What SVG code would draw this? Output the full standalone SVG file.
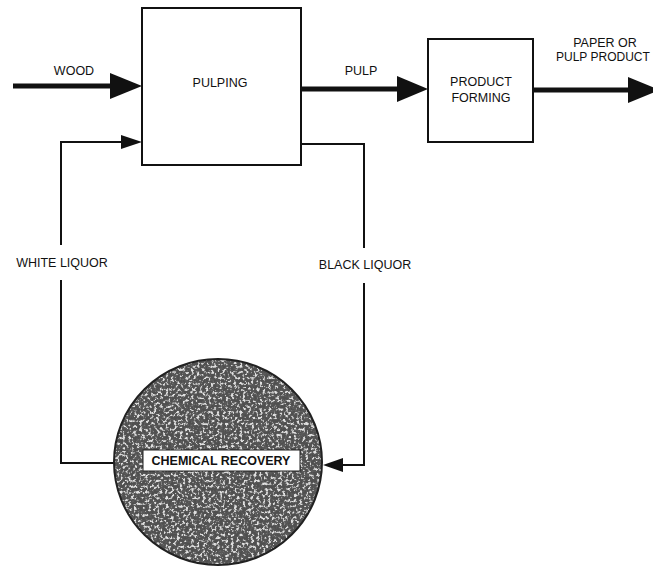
<svg xmlns="http://www.w3.org/2000/svg" width="653" height="567" viewBox="0 0 653 567">
<style>
.box{fill:#fff;stroke:#111;stroke-width:2}
.thick{stroke:#111;stroke-width:5;fill:none}
.thin{stroke:#111;stroke-width:2;fill:none}
.head{fill:#111}
text{font-family:"Liberation Sans",Arial,sans-serif;font-size:12.5px;fill:#111;text-anchor:middle}
.b{font-weight:bold}
</style>
<defs>
<filter id="mottle" x="0" y="0" width="100%" height="100%">
<feTurbulence type="fractalNoise" baseFrequency="0.35" numOctaves="3" seed="7" result="n"/>
<feColorMatrix in="n" type="matrix" values="0 0 0 0 0.08  0 0 0 0 0.08  0 0 0 0 0.08  0 0 0 -5 2.9" result="dark"/>
<feColorMatrix in="n" type="matrix" values="0 0 0 0 0.75  0 0 0 0 0.75  0 0 0 0 0.75  0 0 0 6 -3.3" result="light"/>
<feMerge result="m"><feMergeNode in="SourceGraphic"/><feMergeNode in="dark"/><feMergeNode in="light"/></feMerge>
<feComposite in="m" in2="SourceGraphic" operator="in"/>
</filter>
</defs>
<rect width="653" height="567" fill="#fff"/>
<g id="connectors">
<line class="thick" x1="13" y1="86" x2="115" y2="86"/>
<polygon class="head" points="110,73 142,86 110,99"/>
<line class="thick" x1="301" y1="89" x2="400" y2="89"/>
<polygon class="head" points="397,76 428,89 397,102"/>
<line class="thick" x1="533" y1="90" x2="632" y2="90"/>
<polygon class="head" points="628,77 660,90 628,103"/>
<polyline class="thin" points="61,245 61,142 124,142"/>
<polygon class="head" points="121,135 142,142 121,149"/>
<polyline class="thin" points="61,280 61,463 116,463"/>
<polyline class="thin" points="301,144 364,144 364,248"/>
<polyline class="thin" points="364,283 364,465 340,465"/>
<polygon class="head" points="343,458 323,465 343,472"/>
<text x="62" y="267">WHITE LIQUOR</text>
<text x="365" y="269">BLACK LIQUOR</text>
<text x="74" y="75">WOOD</text>
<text x="361" y="75">PULP</text>
<text x="605" y="47">PAPER OR</text>
<text x="556" y="61" style="text-anchor:start;font-size:12px">PULP PRODUCT</text>
</g>
<g id="pulping">
<rect class="box" x="142" y="8" width="159" height="157"/>
<text x="220" y="87">PULPING</text>
</g>
<g id="product-forming">
<rect class="box" x="428" y="39" width="105" height="103"/>
<text x="481" y="86">PRODUCT</text>
<text x="481" y="102">FORMING</text>
</g>
<g id="chemical-recovery">
<ellipse cx="218" cy="462" rx="104" ry="103" fill="#5e5e5e" filter="url(#mottle)"/>
<ellipse cx="218" cy="462" rx="104" ry="103" fill="none" stroke="#222" stroke-width="2"/>
<rect x="143" y="450" width="157" height="21" fill="#fff" stroke="#222" stroke-width="1"/>
<text class="b" x="221" y="465">CHEMICAL RECOVERY</text>
</g>
</svg>
